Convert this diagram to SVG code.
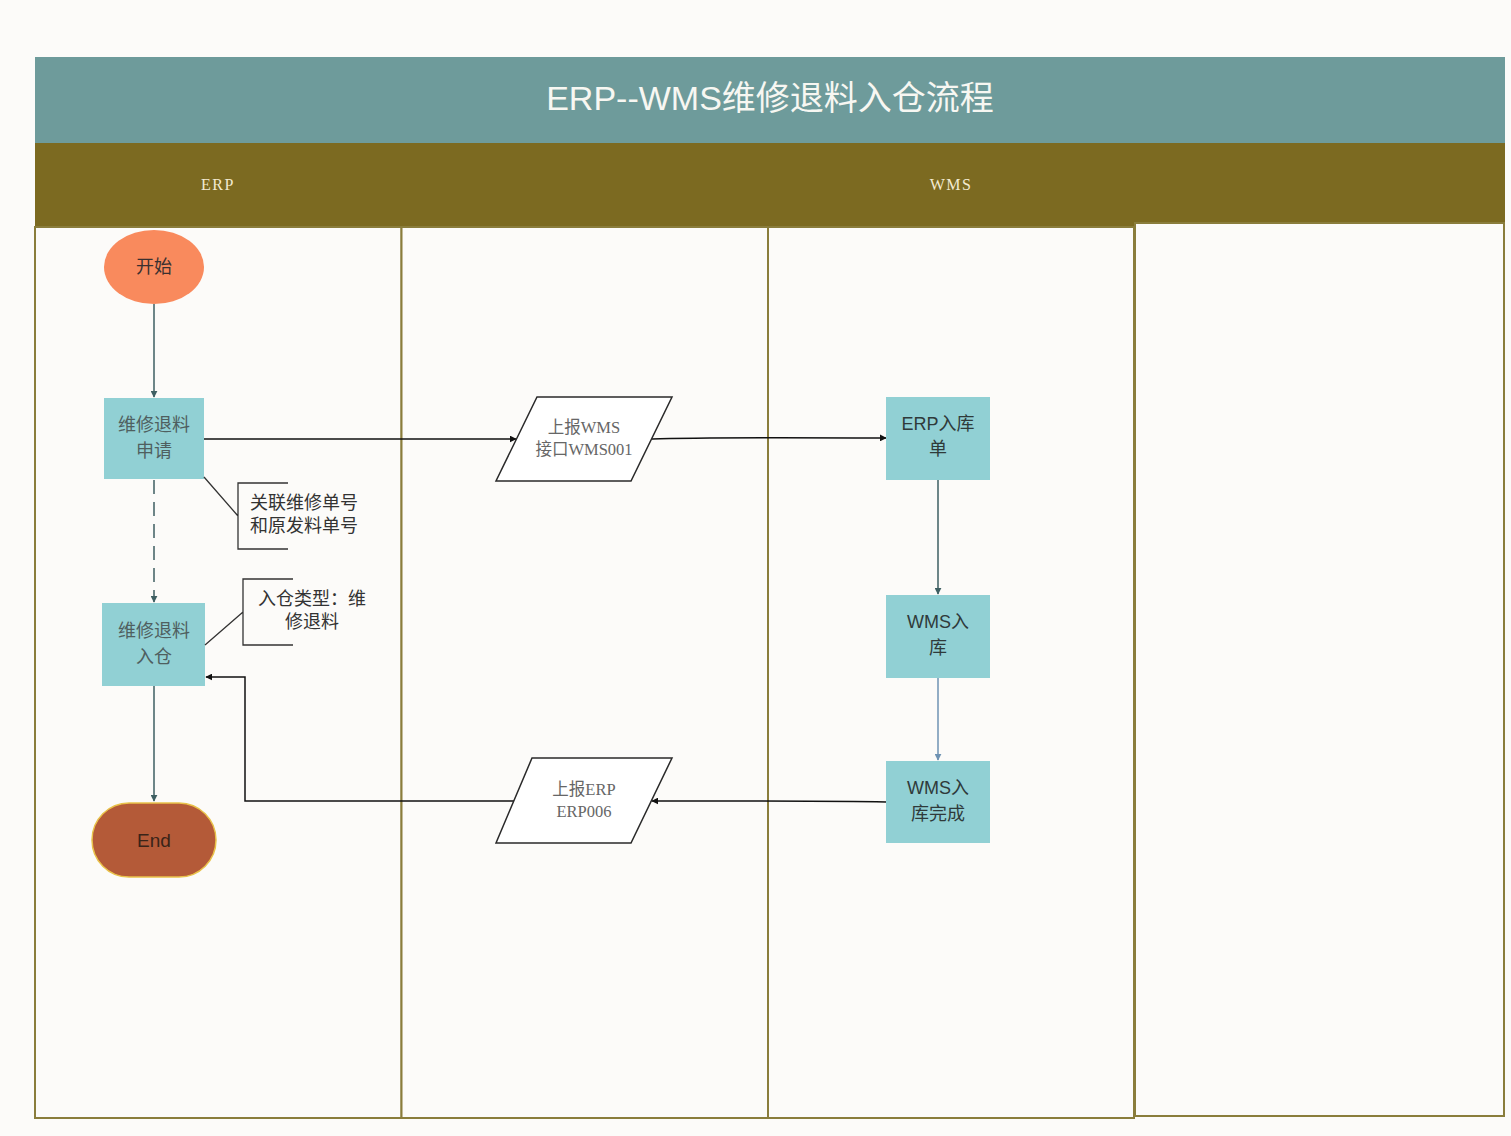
<svg xmlns="http://www.w3.org/2000/svg" width="1511" height="1136" viewBox="0 0 1511 1136">
<defs>
<style>
.lane{fill:#fcfbf9;stroke:#8a7d3c;stroke-width:2}
.proc{fill:#91d0d4}
.para{fill:#ffffff;stroke:#2a2a2a;stroke-width:1.5}
.sans{font-family:"Liberation Sans","Noto Sans CJK SC",sans-serif}
.cjk{font-family:"Noto Sans CJK SC","Liberation Sans",sans-serif}
.serif{font-family:"Liberation Serif","Noto Sans CJK SC",serif}
.nt{font-size:18px;text-anchor:middle;fill:#4f5f60}
.pt{font-size:16.5px;text-anchor:middle;fill:#666}
.dk{fill:#2f3a3a}
.conn{fill:none;stroke-width:1.5}
.blk{stroke:#111}
.teal{stroke:#3e5f62}
.steel{stroke:#6f93b3}
.note{fill:none;stroke:#333;stroke-width:1.3}
</style>
<marker id="ab" viewBox="0 0 10 10" refX="9" refY="5" markerWidth="7" markerHeight="7" orient="auto" markerUnits="userSpaceOnUse"><path d="M0,0 L10,5 L0,10 z" fill="#111"/></marker>
<marker id="at" viewBox="0 0 10 10" refX="9" refY="5" markerWidth="7" markerHeight="7" orient="auto" markerUnits="userSpaceOnUse"><path d="M0,0 L10,5 L0,10 z" fill="#3e5f62"/></marker>
<marker id="as" viewBox="0 0 10 10" refX="9" refY="5" markerWidth="7" markerHeight="7" orient="auto" markerUnits="userSpaceOnUse"><path d="M0,0 L10,5 L0,10 z" fill="#6f93b3"/></marker>
</defs>
<rect x="0" y="0" width="1511" height="1136" fill="#fcfbf9"/>
<g id="pool">
<rect x="35" y="57" width="1470" height="86" fill="#6e9b9b"/>
<text x="770" y="110" class="sans" font-size="34" fill="#f7f7f2" text-anchor="middle">ERP--WMS维修退料入仓流程</text>
<rect x="35" y="143" width="1470" height="80" fill="#7c6a21"/>
<rect x="35" y="222" width="1099" height="5" fill="#7c6a21"/>
<text x="218" y="190" class="serif" font-size="16" fill="#f3ead2" text-anchor="middle" letter-spacing="1.5">ERP</text>
<text x="951" y="190" class="serif" font-size="16" fill="#f3ead2" text-anchor="middle" letter-spacing="1.5">WMS</text>
</g>
<g id="lanes">
<rect class="lane" x="35" y="227" width="366.5" height="891"/>
<rect class="lane" x="401.5" y="227" width="366.5" height="891"/>
<rect class="lane" x="768" y="227" width="366" height="891"/>
<rect class="lane" x="1135" y="223" width="369" height="893"/>
</g>
<g id="connectors">
<path class="conn teal" d="M154,304 L154,397" marker-end="url(#at)"/>
<path class="conn blk" d="M204,439 L516,439" marker-end="url(#ab)"/>
<path class="conn blk" d="M652,439 Q700,437 886,438" marker-end="url(#ab)"/>
<path class="conn teal" d="M938,480 L938,594" marker-end="url(#at)"/>
<path class="conn steel" d="M938,678 L938,760" marker-end="url(#as)"/>
<path class="conn blk" d="M886,802 Q860,801 652,801" marker-end="url(#ab)"/>
<path class="conn blk" d="M516,801 L245,801 L245,677 L206,677" marker-end="url(#ab)"/>
<path class="conn teal" d="M154,480 L154,602" stroke-dasharray="14,8" marker-end="url(#at)"/>
<path class="conn teal" d="M154,686 L154,801" marker-end="url(#at)"/>
</g>
<g id="start">
<ellipse cx="154" cy="267" rx="50" ry="37" fill="#f98a5d"/>
<text x="154" y="273" class="cjk" font-size="18" fill="#3a3030" text-anchor="middle">开始</text>
</g>
<g id="apply">
<rect class="proc" x="104" y="398" width="100" height="81"/>
<text class="cjk nt" x="154" y="431">维修退料</text>
<text class="cjk nt" x="154" y="457">申请</text>
</g>
<g id="note1">
<path class="note" d="M204,477 L238,516 M288,483 L238,483 L238,549 L288,549"/>
<text class="cjk" x="250" y="509" font-size="18" fill="#333">关联维修单号</text>
<text class="cjk" x="250" y="532" font-size="18" fill="#333">和原发料单号</text>
</g>
<g id="stockin">
<rect class="proc" x="102" y="603" width="103" height="83"/>
<text class="cjk nt" x="154" y="637">维修退料</text>
<text class="cjk nt" x="154" y="663">入仓</text>
</g>
<g id="note2">
<path class="note" d="M205,645 L243,612 M293,579 L243,579 L243,645 L293,645"/>
<text class="cjk" x="312" y="605" font-size="18" fill="#333" text-anchor="middle">入仓类型：维</text>
<text class="cjk" x="312" y="628" font-size="18" fill="#333" text-anchor="middle">修退料</text>
</g>
<g id="end">
<rect x="92" y="803" width="124" height="74" rx="37" ry="37" fill="#b45a38" stroke="#e9c24a" stroke-width="1.5"/>
<text x="154" y="847" class="sans" font-size="19" fill="#3a2418" text-anchor="middle">End</text>
</g>
<g id="reportwms">
<polygon class="para" points="537,397 672,397 631,481 496,481"/>
<text class="serif pt" x="584" y="433">上报WMS</text>
<text class="serif pt" x="584" y="455">接口WMS001</text>
</g>
<g id="erpin">
<rect class="proc" x="886" y="397" width="104" height="83"/>
<text class="sans nt dk" x="938" y="430">ERP入库</text>
<text class="sans nt dk" x="938" y="455">单</text>
</g>
<g id="wmsin">
<rect class="proc" x="886" y="595" width="104" height="83"/>
<text class="sans nt dk" x="938" y="628">WMS入</text>
<text class="sans nt dk" x="938" y="654">库</text>
</g>
<g id="wmsdone">
<rect class="proc" x="886" y="761" width="104" height="82"/>
<text class="sans nt dk" x="938" y="794">WMS入</text>
<text class="sans nt dk" x="938" y="820">库完成</text>
</g>
<g id="reporterp">
<polygon class="para" points="532,758 672,758 631,843 496,843"/>
<text class="serif pt" x="584" y="795">上报ERP</text>
<text class="serif pt" x="584" y="817">ERP006</text>
</g>
</svg>
